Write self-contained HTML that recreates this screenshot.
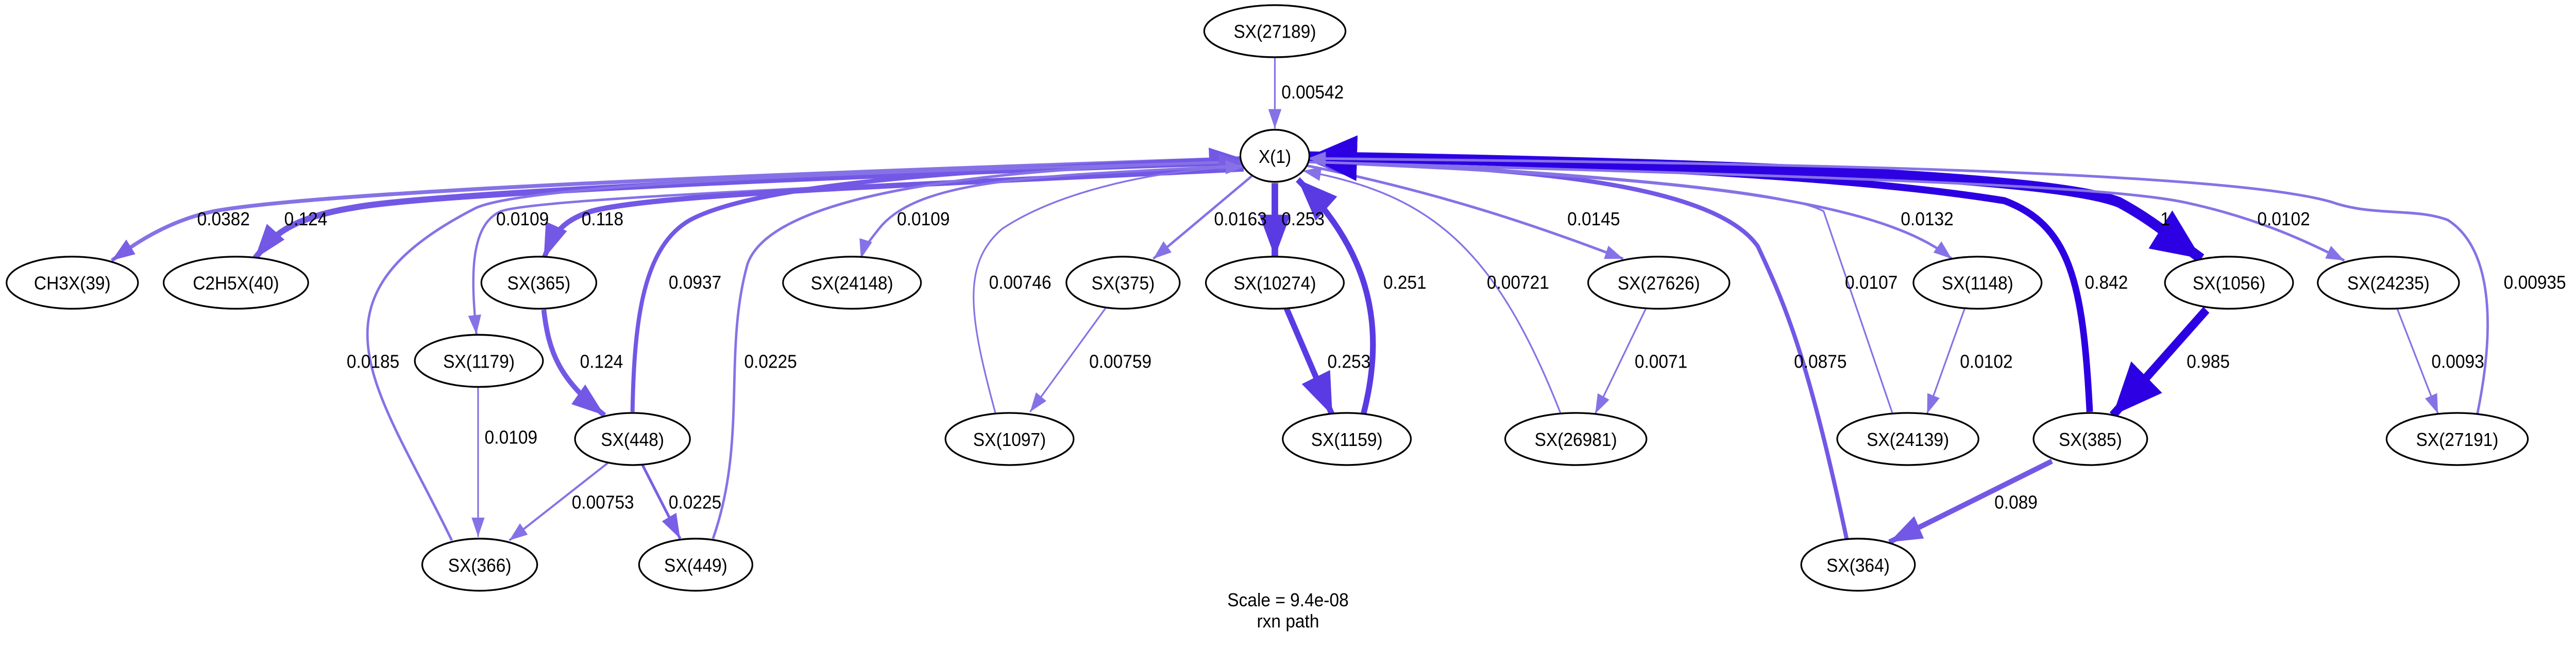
<!DOCTYPE html>
<html><head><meta charset="utf-8"><style>
html,body{margin:0;padding:0;background:#fff;width:100%;height:100%;overflow:hidden;}
svg{display:block;position:absolute;left:0;top:0;width:100vw;height:100vh;}
text{font-family:"Liberation Sans",Arial,sans-serif;font-size:10.5px;fill:#000;}
</style></head><body>
<svg viewBox="0 0 1568 367" preserveAspectRatio="none" xmlns="http://www.w3.org/2000/svg">
<defs>
<marker id="s1" markerUnits="userSpaceOnUse" markerWidth="11" markerHeight="8" refX="11" refY="4" orient="auto" viewBox="0 0 11 8"><path d="M0,0L11,4L0,8z" fill="#8672e6"/></marker>
<marker id="m2" markerUnits="userSpaceOnUse" markerWidth="14" markerHeight="10" refX="14" refY="5" orient="auto" viewBox="0 0 14 10"><path d="M0,0L14,5L0,10z" fill="#7a5fe6"/></marker>
<marker id="l3" markerUnits="userSpaceOnUse" markerWidth="24" markerHeight="19" refX="24" refY="9.5" orient="auto" viewBox="0 0 24 19"><path d="M0,0L24,9.5L0,19z" fill="#5a3be3"/></marker>
<marker id="m3" markerUnits="userSpaceOnUse" markerWidth="20" markerHeight="14" refX="20" refY="7" orient="auto" viewBox="0 0 20 14"><path d="M0,0L20,7L0,14z" fill="#7358e6"/></marker>
<marker id="d4" markerUnits="userSpaceOnUse" markerWidth="30" markerHeight="26" refX="30" refY="13" orient="auto" viewBox="0 0 30 26"><path d="M0,0L30,13L0,26z" fill="#2c00e3"/></marker>
</defs>
<g fill="none">
<path d="M776,33 L776,73" stroke="#8672e6" stroke-width="1" marker-end="url(#s1)"/>
<path d="M756,90 C500,98 200,108 130,120 C100,126 80,140 68,148" stroke="#8672e6" stroke-width="2.2" marker-end="url(#m2)"/>
<path d="M756,92 C500,100 260,110 215,118 C175,124 165,135 155,147" stroke="#7358e6" stroke-width="3.5" marker-end="url(#m3)"/>
<path d="M757,95 C550,105 330,112 305,120 C285,128 287,160 290,190" stroke="#8672e6" stroke-width="1.4" marker-end="url(#s1)"/>
<path d="M757,96 C560,105 400,110 360,120 C340,126 336,135 331,147" stroke="#7358e6" stroke-width="3" marker-end="url(#m3)"/>
<path d="M331,176 C334,200 340,215 368,236" stroke="#7358e6" stroke-width="3" marker-end="url(#m3)"/>
<path d="M385,234 C386,180 392,140 420,125 C470,100 640,95 756,90" stroke="#7358e6" stroke-width="2.5" marker-end="url(#m3)"/>
<path d="M275,307 C230,220 180,170 290,118 C330,102 600,96 756,92" stroke="#8672e6" stroke-width="1.5" marker-end="url(#m2)"/>
<path d="M434,306 C455,250 440,200 455,150 C470,110 600,95 756,92" stroke="#8672e6" stroke-width="1.5" marker-end="url(#m2)"/>
<path d="M757,94 C640,100 560,100 535,130 C530,136 526,140 524,147" stroke="#8672e6" stroke-width="1.4" marker-end="url(#s1)"/>
<path d="M606,235 C590,180 585,150 610,130 C650,105 720,95 757,95" stroke="#8672e6" stroke-width="1" marker-end="url(#s1)"/>
<path d="M762,100 L702,147" stroke="#8672e6" stroke-width="1.4" marker-end="url(#s1)"/>
<path d="M673,175 L627,234" stroke="#8672e6" stroke-width="1" marker-end="url(#s1)"/>
<path d="M776,104 L776,146" stroke="#5a3be3" stroke-width="4" marker-end="url(#l3)"/>
<path d="M783,175 L811,236" stroke="#5a3be3" stroke-width="3.5" marker-end="url(#l3)"/>
<path d="M830,235 C845,180 830,140 790,102" stroke="#5a3be3" stroke-width="3.5" marker-end="url(#l3)"/>
<path d="M950,235 C910,140 870,110 793,97" stroke="#8672e6" stroke-width="1" marker-end="url(#s1)"/>
<path d="M795,94 C880,110 940,130 988,147" stroke="#8672e6" stroke-width="1.5" marker-end="url(#s1)"/>
<path d="M1002,175 L971,235" stroke="#8672e6" stroke-width="1" marker-end="url(#s1)"/>
<path d="M1124,306 C1100,200 1085,170 1070,140 C1040,100 900,95 796,91" stroke="#7358e6" stroke-width="2.5" marker-end="url(#m3)"/>
<path d="M1152,235 L1110,120 C1080,105 900,95 796,90" stroke="#8672e6" stroke-width="1" marker-end="url(#s1)"/>
<path d="M796,92 C1000,100 1140,110 1188,147" stroke="#8672e6" stroke-width="1.5" marker-end="url(#s1)"/>
<path d="M1196,175 L1173,235" stroke="#8672e6" stroke-width="1" marker-end="url(#s1)"/>
<path d="M1272,234 C1268,160 1260,128 1220,114 C1100,96 900,92 796,89" stroke="#2c00e3" stroke-width="4" marker-end="url(#d4)"/>
<path d="M796,89 C1050,93 1250,100 1290,115 C1310,125 1322,135 1340,147" stroke="#2c00e3" stroke-width="6" marker-end="url(#d4)"/>
<path d="M1343,176 L1286,236" stroke="#2c00e3" stroke-width="5" marker-end="url(#d4)"/>
<path d="M1249,262 L1150,308" stroke="#7358e6" stroke-width="3" marker-end="url(#m3)"/>
<path d="M796,92 C1100,100 1280,105 1330,115 C1370,123 1400,135 1427,148" stroke="#8672e6" stroke-width="1.5" marker-end="url(#s1)"/>
<path d="M1459,175 L1484,235" stroke="#8672e6" stroke-width="1" marker-end="url(#s1)"/>
<path d="M1508,235 C1520,180 1515,140 1490,125 C1470,118 1445,123 1420,115 C1350,95 1000,92 796,90" stroke="#8672e6" stroke-width="1.5" marker-end="url(#s1)"/>
<path d="M370,263 L310,307" stroke="#8672e6" stroke-width="1.2" marker-end="url(#s1)"/>
<path d="M391,264 L414,306" stroke="#7a5fe6" stroke-width="1.6" marker-end="url(#m2)"/>
<path d="M291,220 L291,305" stroke="#8672e6" stroke-width="1" marker-end="url(#s1)"/>
</g>
<g fill="#fff" stroke="#000" stroke-width="1">
<ellipse cx="776" cy="17.7" rx="43" ry="14.8"/>
<ellipse cx="776" cy="88.5" rx="21" ry="14.8"/>
<ellipse cx="44" cy="160.6" rx="40" ry="14.8"/>
<ellipse cx="143.6" cy="160.6" rx="44" ry="14.8"/>
<ellipse cx="328" cy="160.6" rx="35" ry="14.8"/>
<ellipse cx="518.6" cy="160.6" rx="42" ry="14.8"/>
<ellipse cx="683.6" cy="160.6" rx="34.5" ry="14.8"/>
<ellipse cx="776" cy="160.6" rx="42" ry="14.8"/>
<ellipse cx="1009.7" cy="160.6" rx="43" ry="14.8"/>
<ellipse cx="1203.7" cy="160.6" rx="39" ry="14.8"/>
<ellipse cx="1356.8" cy="160.6" rx="39" ry="14.8"/>
<ellipse cx="1453.8" cy="160.6" rx="43" ry="14.8"/>
<ellipse cx="291.5" cy="205" rx="39" ry="14.8"/>
<ellipse cx="385" cy="249.4" rx="35" ry="14.8"/>
<ellipse cx="614.5" cy="249.4" rx="39" ry="14.8"/>
<ellipse cx="819.8" cy="249.4" rx="39" ry="14.8"/>
<ellipse cx="959.2" cy="249.4" rx="43" ry="14.8"/>
<ellipse cx="1161.3" cy="249.4" rx="43" ry="14.8"/>
<ellipse cx="1272.4" cy="249.4" rx="34.6" ry="14.8"/>
<ellipse cx="1495.7" cy="249.4" rx="43" ry="14.8"/>
<ellipse cx="292" cy="320.8" rx="35" ry="14.8"/>
<ellipse cx="423.5" cy="320.8" rx="34.5" ry="14.8"/>
<ellipse cx="1131" cy="320.8" rx="34.6" ry="14.8"/>
</g>
<g text-anchor="middle">
<text x="776" y="21.5">SX(27189)</text>
<text x="776" y="92.5">X(1)</text>
<text x="44" y="164.5">CH3X(39)</text>
<text x="143.6" y="164.5">C2H5X(40)</text>
<text x="328" y="164.5">SX(365)</text>
<text x="518.6" y="164.5">SX(24148)</text>
<text x="683.6" y="164.5">SX(375)</text>
<text x="776" y="164.5">SX(10274)</text>
<text x="1009.7" y="164.5">SX(27626)</text>
<text x="1203.7" y="164.5">SX(1148)</text>
<text x="1356.8" y="164.5">SX(1056)</text>
<text x="1453.8" y="164.5">SX(24235)</text>
<text x="291.5" y="209">SX(1179)</text>
<text x="385" y="253.4">SX(448)</text>
<text x="614.5" y="253.4">SX(1097)</text>
<text x="819.8" y="253.4">SX(1159)</text>
<text x="959.2" y="253.4">SX(26981)</text>
<text x="1161.3" y="253.4">SX(24139)</text>
<text x="1272.4" y="253.4">SX(385)</text>
<text x="1495.7" y="253.4">SX(27191)</text>
<text x="292" y="324.8">SX(366)</text>
<text x="423.5" y="324.8">SX(449)</text>
<text x="1131" y="324.8">SX(364)</text>
<text x="784" y="344.5">Scale = 9.4e-08</text>
<text x="784" y="356.5">rxn path</text>
</g>
<g>
<text x="780" y="56">0.00542</text>
<text x="120" y="128">0.0382</text>
<text x="173" y="128">0.124</text>
<text x="302" y="128">0.0109</text>
<text x="354" y="128">0.118</text>
<text x="546" y="128">0.0109</text>
<text x="739" y="128">0.0163</text>
<text x="780" y="128">0.253</text>
<text x="954" y="128">0.0145</text>
<text x="1157" y="128">0.0132</text>
<text x="1315" y="128">1</text>
<text x="1374" y="128">0.0102</text>
<text x="407" y="164">0.0937</text>
<text x="602" y="164">0.00746</text>
<text x="842" y="164">0.251</text>
<text x="905" y="164">0.00721</text>
<text x="1123" y="164">0.0107</text>
<text x="1269" y="164">0.842</text>
<text x="1524" y="164">0.00935</text>
<text x="211" y="209">0.0185</text>
<text x="353" y="209">0.124</text>
<text x="453" y="209">0.0225</text>
<text x="663" y="209">0.00759</text>
<text x="808" y="209">0.253</text>
<text x="995" y="209">0.0071</text>
<text x="1092" y="209">0.0875</text>
<text x="1193" y="209">0.0102</text>
<text x="1331" y="209">0.985</text>
<text x="1480" y="209">0.0093</text>
<text x="295" y="252">0.0109</text>
<text x="348" y="289">0.00753</text>
<text x="407" y="289">0.0225</text>
<text x="1214" y="289">0.089</text>
</g>
</svg>
</body></html>
